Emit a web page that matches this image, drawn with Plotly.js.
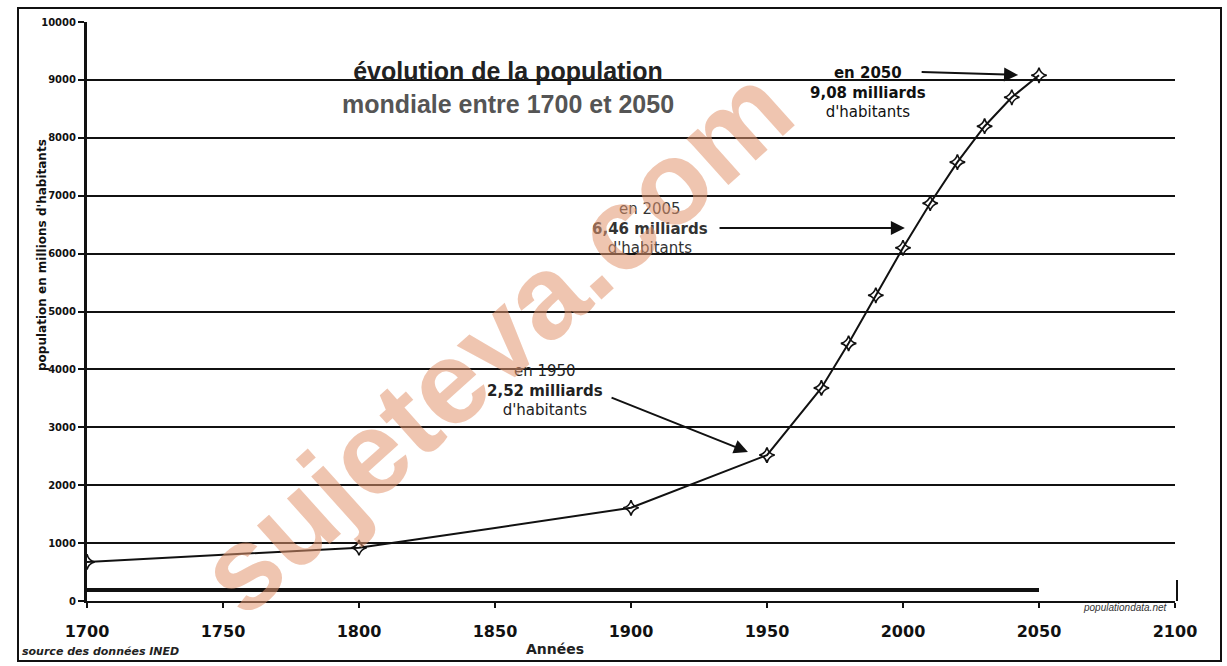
<!DOCTYPE html>
<html>
<head>
<meta charset="utf-8">
<script src="https://cdn.plot.ly/plotly-3.0.1.min.js"></script>
<style>html,body{margin:0;padding:0;background:#fff;}#chart{width:1227px;height:666px;}</style>
</head>
<body>
<div id="chart"></div>
<script>
// Population mondiale (millions d'habitants)
const years = [1700, 1750, 1800, 1850, 1900, 1950, 1970, 1980, 1990, 2000, 2010, 2020, 2030, 2040, 2050];
const population = [675, 795, 920, 1260, 1610, 2520, 3680, 4450, 5280, 6100, 6870, 7580, 8200, 8700, 9080];
const markerYears = [1700, 1800, 1900, 1950, 1970, 1980, 1990, 2000, 2010, 2020, 2030, 2040, 2050];
const markerPop = markerYears.map(y => population[years.indexOf(y)]);
const xTickVals = [1700, 1750, 1800, 1850, 1900, 1950, 2000, 2050, 2100];
const yTickVals = [0, 1000, 2000, 3000, 4000, 5000, 6000, 7000, 8000, 9000, 10000];

const FONT = '"Liberation Sans", Arial, sans-serif';
const WIDE = '"DejaVu Sans", Verdana, sans-serif';

const traces = [
  {x: years, y: population, mode: 'lines', line: {color: '#111', width: 2}, hoverinfo: 'skip'},
  {x: markerYears, y: markerPop, mode: 'markers',
   marker: {symbol: 'star-diamond-open', size: 11, color: '#111', line: {color: '#111', width: 1.6}}}
];

const W = 1088, H = 579; // plot area in px
const px = v => (v - 87) / W;
const py = v => (601 - v) / H;

const layout = {
  width: 1227, height: 666,
  margin: {l: 87, r: 52, t: 22, b: 65},
  paper_bgcolor: '#fff', plot_bgcolor: '#fff',
  showlegend: false,
  font: {family: FONT, color: '#111'},
  title: {
    text: '<b>évolution de la population</b><br><b><span style="color:#555">mondiale entre 1700 et 2050</span></b>',
    x: 508 / 1227, xref: 'container', xanchor: 'center',
    y: 1 - 80 / 666, yref: 'container', yanchor: 'middle',
    font: {family: FONT, size: 25, color: '#222'}
  },
  xaxis: {
    range: [1700, 2100], tickvals: xTickVals, ticktext: xTickVals.map(String),
    showgrid: false, zeroline: false, showline: true, linecolor: '#111', linewidth: 2,
    ticks: 'outside', ticklen: 5, tickwidth: 2, tickcolor: '#111',
    ticklabelstandoff: 10,
    tickfont: {family: WIDE, size: 16, color: '#111', weight: 'bold'}
  },
  yaxis: {
    range: [0, 10000], tickvals: yTickVals, tickformat: 'd',
    showgrid: true, gridcolor: '#111', gridwidth: 2,
    zeroline: false, showline: true, linecolor: '#111', linewidth: 3,
    ticks: 'outside', ticklen: 6, tickwidth: 2, tickcolor: '#111',
    tickfont: {family: WIDE, size: 10, color: '#111', weight: 'bold'}
  },
  shapes: [
    // cadre extérieur
    {type: 'rect', xref: 'paper', yref: 'paper', x0: px(18), x1: px(1221), y0: py(661), y1: py(8),
     line: {color: '#111', width: 2}, fillcolor: 'rgba(0,0,0,0)'},
    // trait épais bas
    {type: 'line', xref: 'x', yref: 'paper', x0: 1700, x1: 2050, y0: py(590), y1: py(590),
     line: {color: '#111', width: 4}},
    // bord droit de la zone
    {type: 'line', xref: 'paper', yref: 'paper', x0: px(1177), x1: px(1177), y0: py(601), y1: py(580),
     line: {color: '#111', width: 2}}
  ],
  annotations: [
    // flèches
    {x: 2042.3, y: 9085, ax: 2006.3, ay: 9136, xref: 'x', yref: 'y', axref: 'x', ayref: 'y',
     text: '', showarrow: true, arrowhead: 2, arrowsize: 1.4, arrowwidth: 2, arrowcolor: '#111'},
    {x: 2000.7, y: 6442, ax: 1932, ay: 6442, xref: 'x', yref: 'y', axref: 'x', ayref: 'y',
     text: '', showarrow: true, arrowhead: 2, arrowsize: 1.4, arrowwidth: 2, arrowcolor: '#111'},
    {x: 1943, y: 2573, ax: 1892.3, ay: 3523, xref: 'x', yref: 'y', axref: 'x', ayref: 'y',
     text: '', showarrow: true, arrowhead: 2, arrowsize: 1.4, arrowwidth: 2, arrowcolor: '#111'},
    // textes
    {x: 1987.1, y: 8774, xref: 'x', yref: 'y', showarrow: false, align: 'center',
     text: '<b>en 2050</b><br><b>9,08 milliards</b><br>d\'habitants',
     font: {family: WIDE, size: 15, color: '#111'}},
    {x: 1907, y: 6442, xref: 'x', yref: 'y', showarrow: false, align: 'center',
     text: 'en 2005<br><b>6,46 milliards</b><br>d\'habitants',
     font: {family: WIDE, size: 15, color: '#333'}},
    {x: 1868.4, y: 3644, xref: 'x', yref: 'y', showarrow: false, align: 'center',
     text: 'en 1950<br><b>2,52 milliards</b><br>d\'habitants',
     font: {family: WIDE, size: 15, color: '#222'}},
    // titre axe y
    {x: px(33), y: py(255), xref: 'paper', yref: 'paper', showarrow: false, textangle: -90,
     text: "<b>population en millions d'habitants</b>", font: {family: WIDE, size: 12, color: '#111'}},
    // titre axe x
    {x: px(555), y: py(649), xref: 'paper', yref: 'paper', yanchor: 'middle', showarrow: false,
     text: '<b>Années</b>', font: {family: WIDE, size: 14, color: '#222'}},
    {x: px(20), y: py(651), xref: 'paper', yref: 'paper', xanchor: 'left', yanchor: 'middle', showarrow: false,
     text: '<b><i>source des données INED</i></b>', font: {family: WIDE, size: 11, color: '#222'}},
    {x: px(1170), y: py(607), xref: 'paper', yref: 'paper', xanchor: 'right', yanchor: 'middle', showarrow: false,
     text: '<i>populationdata.net</i>', font: {family: FONT, size: 10, color: '#333'}},
    // filigrane
    {x: px(495), y: py(340), xref: 'paper', yref: 'paper', showarrow: false, textangle: -42,
     text: '<b>sujeteva.com</b>', font: {family: FONT, size: 118, color: 'rgba(226,150,112,0.55)'}}
  ]
};

Plotly.newPlot('chart', traces, layout, {displayModeBar: false, staticPlot: true});
</script>
</body>
</html>
